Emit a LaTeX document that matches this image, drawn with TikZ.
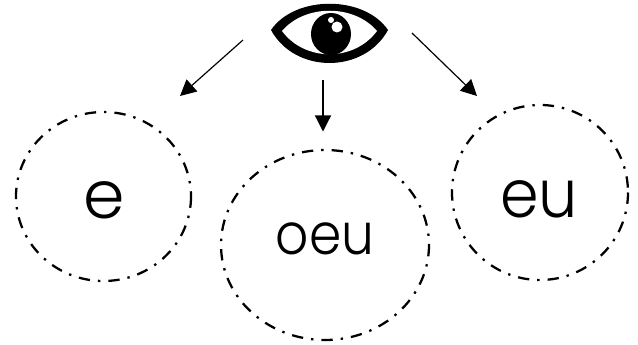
\documentclass[tikz,border=0pt]{standalone}
\usepackage{fontspec}
\usetikzlibrary{arrows.meta}
\setmainfont{Poppins Light}
\tikzset{
  bubble/.style={draw=black,line width=1.7pt,dash pattern=on 8.5pt off 6pt on 1.8pt off 6pt},
  arrowline/.style={draw=black,line width=0.9pt,-{Triangle[length=12pt,width=12pt]}},
  lbl/.style={inner sep=0pt,text=black}
}
\begin{document}
\begin{tikzpicture}[x=0.75pt,y=-0.75pt]
\useasboundingbox (0,0) rectangle (638,345);
% bubbles
\draw[bubble] (103.5,196.5) ellipse [x radius=87.5,y radius=84.5];
\draw[bubble] (325,245) ellipse [x radius=104,y radius=95];
\draw[bubble] (540,192.5) ellipse [x radius=88,y radius=87.5];
\node[lbl,font=\fontsize{50}{50}\selectfont] (e) at (104,200.5) {e};
\node[lbl,font=\fontsize{43}{43}\selectfont,xscale=0.905] (oeu) at (325,239) {oeu};
\node[lbl,font=\fontsize{50}{50}\selectfont,xscale=0.93] (eu) at (539,199.5) {eu};
% eye
\fill[black] (271,30) .. controls (295,-5) and (364,-5) .. (388,30)
  .. controls (364,74) and (295,74) .. (271,30) -- cycle;
\fill[white] (282,31) .. controls (305,4) and (354,4) .. (377,31)
  .. controls (354,62) and (305,62) .. (282,31) -- cycle;
\fill[black] (331,34) ellipse [x radius=20,y radius=21];
\fill[white] (331,20) circle [radius=3];
\fill[white] (337,27) circle [radius=5.5];
% arrows
\coordinate (a1s) at (243,40); \coordinate (a1e) at (180,96);
\coordinate (a2s) at (323,80); \coordinate (a2e) at (323,131.5);
\coordinate (a3s) at (412,33); \coordinate (a3e) at (477,96);
\draw[arrowline] (a1s) -- (a1e);
\draw[arrowline] (a2s) -- (a2e);
\draw[arrowline] (a3s) -- (a3e);
\end{tikzpicture}
\end{document}
